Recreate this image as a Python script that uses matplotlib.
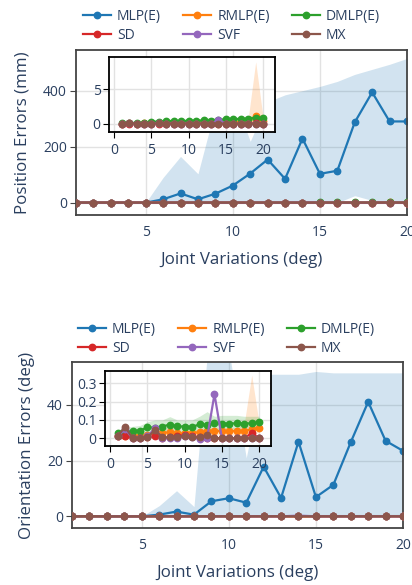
import matplotlib
matplotlib.use('Agg')
import matplotlib.pyplot as plt
from matplotlib.lines import Line2D

plt.rcParams['font.family'] = ['Open Sans', 'DejaVu Sans']

TXT = '#2a3f5f'
GRID = '#e2e2e2'

x = list(range(1, 21))
names = ['MLP(E)', 'RMLP(E)', 'DMLP(E)', 'SD', 'SVF', 'MX']
colors = ['#1f77b4', '#ff7f0e', '#2ca02c', '#d62728', '#9467bd', '#8c564b']

# ---- position errors (mm) ----
mlp_pos = [0, 0, 0, 0, 0, 12, 33, 12, 32, 61, 104, 154, 85, 229, 103, 114, 287, 394, 290, 290]
mlp_pos_lo = [0, 0, 0, 0, 0, 0, 0, 0, 0, 0, 0, 0, 0, 0, 0, 0, 25, 8, 0, 0]
mlp_pos_hi = [0, 0, 0, 0, 0, 90, 165, 103, 340, 390, 219, 360, 385, 400, 415, 433, 458, 476, 494, 515]
rmlp_pos = [0.0, 0.05, 0.03, 0.05, 0.08, 0.1, 0.1, 0.12, 0.12, 0.15, 0.15, 0.18, 0.2, 0.2, 0.25, 0.25, 0.3, 0.35, 1.1, 0.4]
rmlp_pos_lo = [0.0, 0.0, 0.0, 0.0, 0.0, 0.0, 0.0, 0.0, 0.0, 0.0, 0.0, 0.0, 0.0, 0.0, 0.0, 0.0, 0.05, 0.1, 0.2, 0.1]
rmlp_pos_hi = [0.05, 0.15, 0.1, 0.15, 0.2, 0.25, 0.25, 0.3, 0.3, 0.35, 0.35, 0.4, 0.45, 0.45, 0.5, 0.55, 0.6, 0.8, 9.0, 0.8]
dmlp_pos = [0.05, 0.15, 0.1, 0.1, 0.3, 0.3, 0.4, 0.4, 0.35, 0.45, 0.4, 0.5, 0.45, 0.55, 0.65, 0.7, 0.65, 0.75, 0.85, 0.9]
dmlp_pos_lo = [0.0, 0.0, 0.0, 0.0, 0.1, 0.1, 0.15, 0.2, 0.15, 0.2, 0.15, 0.25, 0.2, 0.25, 0.3, 0.35, 0.3, 0.4, 0.45, 0.5]
dmlp_pos_hi = [0.15, 0.3, 0.25, 0.25, 0.5, 0.55, 0.65, 0.6, 0.6, 0.7, 0.65, 0.8, 0.9, 0.85, 1.0, 1.05, 1.0, 1.1, 1.25, 1.3]
sd_pos = [0.01, 0.03, 0.02, 0.01, 0.02, 0.03, 0.02, 0.02, 0.03, 0.02, 0.02, 0.03, 0.02, 0.02, 0.03, 0.02, 0.02, 0.03, 0.05, 0.02]
svf_pos = [0.01, 0.08, 0.01, 0.01, 0.01, 0.06, 0.01, 0.01, 0.01, 0.01, 0.01, 0.0, 0.01, 0.5, 0.01, 0.01, 0.01, 0.01, 0.01, 0.01]
mx_pos = [0.02, 0.12, 0.01, 0.01, 0.02, 0.05, 0.01, 0.01, 0.02, 0.02, 0.01, 0.03, 0.01, 0.01, 0.01, 0.01, 0.01, 0.01, 0.01, 0.01]

# ---- orientation errors (deg) ----
mlp_ori = [0, 0, 0, 0, 0, 0.6, 1.7, 0.6, 5.4, 6.5, 4.9, 17.8, 6.6, 26.8, 6.9, 11.3, 26.6, 41.1, 27.1, 23.5]
mlp_ori_lo = [0, 0, 0, 0, 0, 0, 0, 0, 0, 0, 0, 0, 0, 0, 0, 0, 0.8, 0.3, 0, 0]
mlp_ori_hi = [0, 0, 0, 0, 0, 3.8, 9.2, 3.5, 75, 60, 21, 51, 51, 51, 52, 51.5, 51.5, 51.5, 51.5, 51.5]
rmlp_ori = [0.012, 0.012, 0.014, 0.014, 0.018, 0.025, 0.027, 0.035, 0.027, 0.027, 0.027, 0.035, 0.038, 0.04, 0.04, 0.038, 0.04, 0.04, 0.048, 0.056]
rmlp_ori_lo = [0.005, 0.005, 0.006, 0.006, 0.008, 0.01, 0.012, 0.01, 0.012, 0.012, 0.012, 0.015, 0.018, 0.02, 0.02, 0.018, 0.02, 0.018, 0.01, 0.035]
rmlp_ori_hi = [0.02, 0.02, 0.022, 0.025, 0.03, 0.04, 0.045, 0.07, 0.045, 0.042, 0.042, 0.055, 0.058, 0.06, 0.06, 0.058, 0.06, 0.08, 0.345, 0.08]
dmlp_ori = [0.028, 0.035, 0.04, 0.042, 0.06, 0.058, 0.064, 0.075, 0.065, 0.064, 0.062, 0.076, 0.073, 0.082, 0.08, 0.08, 0.082, 0.08, 0.082, 0.087]
dmlp_ori_lo = [0.015, 0.015, 0.02, 0.02, 0.03, 0.025, 0.03, 0.035, 0.03, 0.03, 0.03, 0.035, 0.035, 0.04, 0.04, 0.04, 0.04, 0.04, 0.045, 0.05]
dmlp_ori_hi = [0.045, 0.06, 0.065, 0.07, 0.09, 0.1, 0.1, 0.118, 0.1, 0.1, 0.1, 0.12, 0.145, 0.12, 0.125, 0.125, 0.125, 0.12, 0.12, 0.12]
sd_ori = [0.01, 0.015, 0.0, 0.0, 0.005, 0.012, 0.0, 0.005, 0.012, 0.018, 0.012, 0.005, 0.0, 0.0, 0.0, 0.0, 0.0, 0.0, 0.028, 0.0]
svf_ori = [0.01, 0.05, 0.0, 0.0, 0.01, 0.055, 0.0, 0.0, 0.0, 0.01, 0.005, -0.004, 0.0, 0.24, 0.0, 0.0, 0.0, 0.0, 0.0, 0.0]
mx_ori = [0.012, 0.064, 0.0, 0.0, 0.005, 0.045, 0.005, 0.005, 0.008, 0.012, 0.005, 0.005, 0.02, 0.0, 0.0, 0.0, 0.0, 0.0, 0.0, 0.0]

pos_series = [mlp_pos, rmlp_pos, dmlp_pos, sd_pos, svf_pos, mx_pos]
ori_series = [mlp_ori, rmlp_ori, dmlp_ori, sd_ori, svf_ori, mx_ori]
pos_bands = [(0, mlp_pos_lo, mlp_pos_hi), (1, rmlp_pos_lo, rmlp_pos_hi), (2, dmlp_pos_lo, dmlp_pos_hi)]
ori_bands = [(0, mlp_ori_lo, mlp_ori_hi), (1, rmlp_ori_lo, rmlp_ori_hi), (2, dmlp_ori_lo, dmlp_ori_hi)]


def draw(ax, series, bands, ms, lw, skip=()):
    for i, lo, hi in bands:
        if i in skip:
            continue
        ax.fill_between(x, lo, hi, color=colors[i], alpha=0.2, lw=0, zorder=1)
    for i, s in enumerate(series):
        if i in skip:
            continue
        ax.plot(x, s, '-o', color=colors[i], lw=lw, ms=ms, zorder=2 + i)


def style(ax, spine_col, xlen, ylen):
    ax.set_facecolor('white')
    ax.grid(True, color=GRID, lw=1)
    ax.set_axisbelow(True)
    for sp in ax.spines.values():
        sp.set_color(spine_col)
        sp.set_linewidth(1.3)
    ax.tick_params(axis='x', colors=TXT, labelsize=10, length=xlen, color=spine_col, pad=7 if xlen == 0 else 4)
    ax.tick_params(axis='y', colors=TXT, labelsize=10, length=ylen, color=spine_col, pad=2)


fig = plt.figure(figsize=(4.12, 5.85), dpi=100)

panels = [
    (pos_series, pos_bands, [0.1845, 0.6325, 0.8034, 0.282], (-44, 545), [0, 200, 400],
     'Position Errors (mm)', [0.2646, 0.7744, 0.403, 0.1282], (-1.2, 9.7), [0, 5], None, 83, 9),
    (ori_series, ori_bands, [0.1748, 0.0974, 0.8034, 0.2838], (-4.2, 55.4), [0, 20, 40],
     'Orientation Errors (deg)', [0.2549, 0.2376, 0.403, 0.1277], (-0.042, 0.365), [0, 0.1, 0.2, 0.3],
     ['0', '0.1', '0.2', '0.3'], 78, 322),
]

# legend is filled column by column, so reorder to read row by row
leg_order = [0, 3, 1, 4, 2, 5]

for series, bands, rect, ylim, yt, ylab, irect, iylim, iyt, iytl, left_px, top_px in panels:
    ax = fig.add_axes(rect)
    draw(ax, series, bands, 4.6, 1.6)
    ax.set_xlim(1, 20)
    ax.set_ylim(*ylim)
    ax.set_xticks([5, 10, 15, 20])
    ax.set_yticks(yt)
    style(ax, '#444444', 0, 4.5)
    ax.set_xlabel('Joint Variations (deg)', fontsize=12.2, color=TXT, labelpad=9)
    ax.set_ylabel(ylab, fontsize=12.2, color=TXT, labelpad=9)

    ins = fig.add_axes(irect)
    draw(ins, series, bands, 4.6, 1.6, skip=(0,))
    ins.set_xlim(-0.7, 21.6)
    ins.set_ylim(*iylim)
    ins.set_xticks([0, 5, 10, 15, 20])
    ins.set_yticks(iyt)
    if iytl:
        ins.set_yticklabels(iytl)
    style(ins, 'black', 4, 4)

    handles = [Line2D([], [], color=colors[k], lw=1.6, marker='o', ms=4.6) for k in leg_order]
    labels = [names[k] for k in leg_order]
    fig.legend(handles, labels, loc='upper left', ncol=3, frameon=False,
               bbox_to_anchor=(left_px / 412, 1 - top_px / 585), bbox_transform=fig.transFigure,
               fontsize=10, handlelength=2.0, handletextpad=0.45, columnspacing=1.6,
               labelspacing=0.3, borderpad=0, borderaxespad=0, labelcolor=TXT)

plt.savefig('out.png', dpi=100)
